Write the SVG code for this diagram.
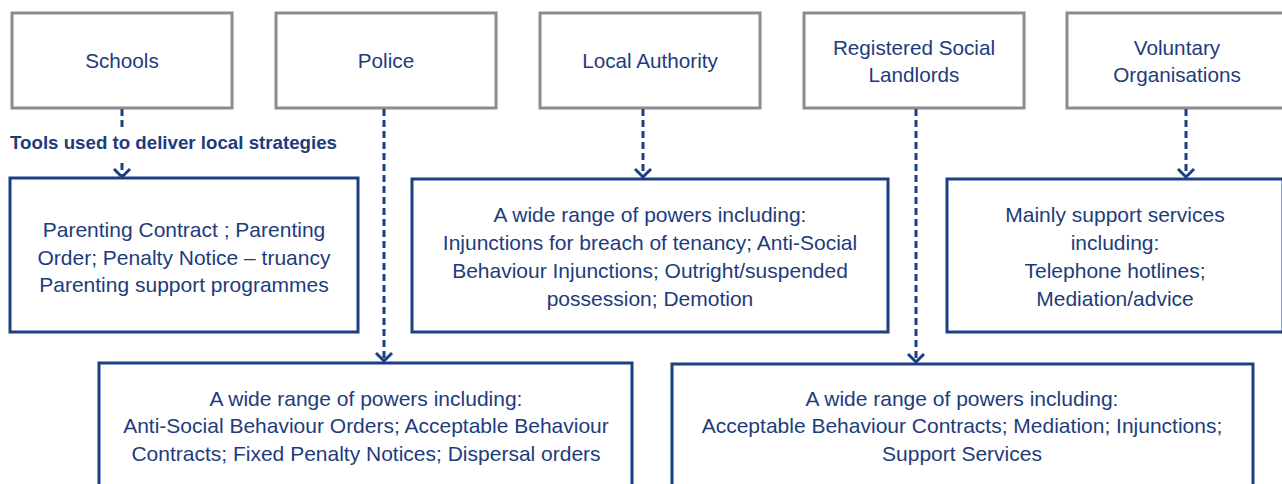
<svg xmlns="http://www.w3.org/2000/svg" width="1282" height="484" viewBox="0 0 1282 484">
<style>
.src{fill:#fff;stroke:#8c8c8c;stroke-width:3}
.tool{fill:#fff;stroke:#1b3f83;stroke-width:3}
.t{font-family:"Liberation Sans",Arial,sans-serif;font-size:20.7px;fill:#1d3c7c;text-anchor:middle}
.m{font-size:21px}
.lbl{font-family:"Liberation Sans",Arial,sans-serif;font-size:18.5px;font-weight:bold;fill:#1d3c7c}
.dash{fill:none;stroke:#1b3f83;stroke-width:3;stroke-dasharray:7 4}
.head{fill:none;stroke:#1b3f83;stroke-width:3}
</style>
<rect width="1282" height="484" fill="#fff"/>

<g id="schools"><rect class="src" x="12" y="13" width="220" height="95"/><text class="t" x="122" y="68">Schools</text></g>
<g id="police"><rect class="src" x="276" y="13" width="220" height="95"/><text class="t" x="386" y="68">Police</text></g>
<g id="local-authority"><rect class="src" x="540" y="13" width="220" height="95"/><text class="t" x="650" y="68">Local Authority</text></g>
<g id="rsl"><rect class="src" x="804" y="13" width="220" height="95"/><text class="t" x="914" y="55">Registered Social</text><text class="t" x="914" y="82">Landlords</text></g>
<g id="voluntary"><rect class="src" x="1067" y="13" width="220" height="95"/><text class="t" x="1177" y="55">Voluntary</text><text class="t" x="1177" y="82">Organisations</text></g>

<g id="tools-label"><text class="lbl" x="10" y="149" textLength="327" lengthAdjust="spacingAndGlyphs">Tools used to deliver local strategies</text></g>

<g id="schools-tools"><rect class="tool" x="10" y="178" width="348" height="154"/>
<text class="t m" x="184" y="237">Parenting Contract ; Parenting</text>
<text class="t m" x="184" y="264.5">Order; Penalty Notice – truancy</text>
<text class="t m" x="184" y="292">Parenting support programmes</text></g>

<g id="la-tools"><rect class="tool" x="412" y="179" width="476" height="153"/>
<text class="t m" x="650" y="222">A wide range of powers including:</text>
<text class="t m" x="650" y="250">Injunctions for breach of tenancy; Anti-Social</text>
<text class="t m" x="650" y="278">Behaviour Injunctions; Outright/suspended</text>
<text class="t m" x="650" y="306">possession; Demotion</text></g>

<g id="vol-tools"><rect class="tool" x="947" y="179" width="336" height="153"/>
<text class="t m" x="1115" y="222">Mainly support services</text>
<text class="t m" x="1115" y="250">including:</text>
<text class="t m" x="1115" y="278">Telephone hotlines;</text>
<text class="t m" x="1115" y="306">Mediation/advice</text></g>

<g id="police-tools"><rect class="tool" x="99" y="363" width="533" height="140"/>
<text class="t m" x="366" y="405.5">A wide range of powers including:</text>
<text class="t m" x="366" y="433">Anti-Social Behaviour Orders; Acceptable Behaviour</text>
<text class="t m" x="366" y="460.5">Contracts; Fixed Penalty Notices; Dispersal orders</text></g>

<g id="rsl-tools"><rect class="tool" x="672" y="364" width="581" height="140"/>
<text class="t m" x="962" y="405.5">A wide range of powers including:</text>
<text class="t m" x="962" y="433">Acceptable Behaviour Contracts; Mediation; Injunctions;</text>
<text class="t m" x="962" y="460.5">Support Services</text></g>

<g id="connectors">
<path class="dash" d="M122 109V129M122 163V176"/>
<polyline class="head" points="114,169 122,177 130,169"/>
<path class="dash" d="M384 109V361"/>
<polyline class="head" points="376,353 384,361 392,353"/>
<path class="dash" d="M643 109V176"/>
<polyline class="head" points="635,169 643,177 651,169"/>
<path class="dash" d="M916 109V362"/>
<polyline class="head" points="908,354 916,362 924,354"/>
<path class="dash" d="M1186 109V176"/>
<polyline class="head" points="1178,169 1186,177 1194,169"/>
</g>
</svg>
